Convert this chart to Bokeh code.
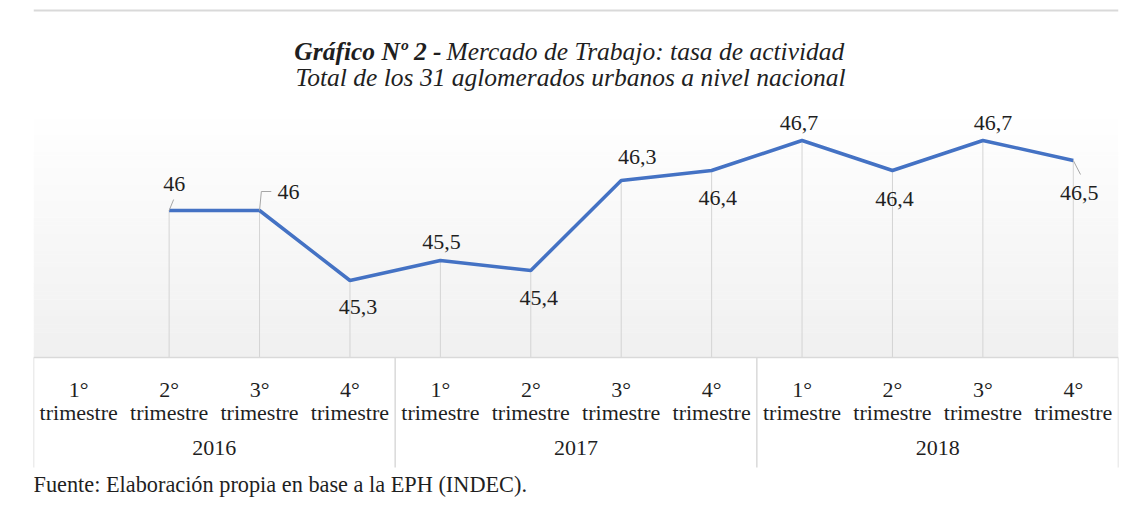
import numpy as np
from bokeh.plotting import figure
from bokeh.models import FactorRange, Range1d, Label, Span
from bokeh.core.properties import value
from bokeh.embed import file_html
from bokeh.resources import INLINE

years = ["2016", "2017", "2018"]
quarters = ["1°\ntrimestre", "2°\ntrimestre", "3°\ntrimestre", "4°\ntrimestre"]
tasa = [None, 46.0, 46.0, 45.3, 45.5, 45.4, 46.3, 46.4, 46.7, 46.4, 46.7, 46.5]
etiquetas = ["", "46", "46", "45,3", "45,5", "45,4", "46,3", "46,4", "46,7", "46,4", "46,7", "46,5"]

# label placement (pixels) - style only
lab_dx = [0, 5, 29, 8, 1, 8, 16, 6, -3, 2, 10, 6]
lab_dy = [0, -27, -19, 26, -19, 27, -24, 27, -18, 28, -18, 32]

FONT = "Liberation Serif"
TXT = "#1f1f1f"
factors = [(y, q) for y in years for q in quarters]
vals = np.array([np.nan if v is None else v for v in tasa])

H = 518
PX = 100.0            # pixels per unit
AXIS_Y = 44.53        # value at the category axis
Y_TOP = AXIS_Y + 357 / PX
Y_BOT = AXIS_Y - (H - 357) / PX
GRAD_TOP = 47.0

p = figure(width=1128, height=H,
           x_range=FactorRange(*factors, factor_padding=0, group_padding=0, range_padding=0),
           y_range=Range1d(Y_BOT, Y_TOP), output_backend="svg", toolbar_location=None,
           min_border_left=33, min_border_right=10, min_border_top=0, min_border_bottom=0)
p.outline_line_color = None
p.background_fill_color = "white"
p.border_fill_color = "white"
p.xgrid.visible = False
p.ygrid.visible = False
p.yaxis.visible = False

# picture frame: top rule
p.add_layout(Span(location=Y_TOP - 10 / PX, dimension="width", line_color="#d9d9d9", line_width=2))

# gradient background of the plot area (horizontal bands)
nb = 60
edges = np.linspace(AXIS_Y, GRAD_TOP, nb + 1)
shade = np.linspace(240, 255, nb).round().astype(int)
cols = ["#%02x%02x%02x" % (s, s, s) for s in shade]
p.quad(left=[0] * nb, right=[len(factors)] * nb, bottom=list(edges[:-1]), top=list(edges[1:] + 0.004),
       fill_color=cols, line_color=None)

mask = ~np.isnan(vals)
fx = [f for f, m in zip(factors, mask) if m]
fv = vals[mask]
p.segment(x0=fx, y0=[AXIS_Y] * len(fx), x1=fx, y1=list(fv), line_color="#d4d4d4", line_width=1)

p.line(x=factors, y=list(vals), line_color="#4472C4", line_width=3.5)

# leader lines of the data labels
lead_xs = [[(*factors[1], 0.0), (*factors[1], 0.05)],
           [(*factors[2], 0.0), (*factors[2], 0.02), (*factors[2], 0.13)],
           [(*factors[11], 0.0), (*factors[11], 0.08)]]
lead_ys = [[tasa[1], tasa[1] + 0.11],
           [tasa[2], tasa[2] + 0.19, tasa[2] + 0.19],
           [tasa[11], tasa[11] - 0.14]]
p.multi_line(xs=lead_xs, ys=lead_ys, line_color="#a6a6a6", line_width=1)

p.text(x=fx, y=list(fv), text=[e for e, m in zip(etiquetas, mask) if m],
       x_offset=[d for d, m in zip(lab_dx, mask) if m], y_offset=[d for d, m in zip(lab_dy, mask) if m],
       text_align="center", text_baseline="middle", text_font=value(FONT), text_font_size="22px",
       text_color=TXT)

# category axis (inside the frame, at the bottom of the plot area)
ax = p.xaxis[0]
ax.fixed_location = AXIS_Y
ax.axis_line_color = "#d9d9d9"
ax.axis_line_width = 1.5
ax.major_tick_line_color = None
ax.minor_tick_line_color = None
ax.major_label_text_font = FONT
ax.major_label_text_font_size = "22px"
ax.major_label_text_line_height = 0.95
ax.major_label_text_color = TXT
ax.major_label_standoff = 13
ax.group_text_font = FONT
ax.group_text_font_size = "22px"
ax.group_text_color = TXT
ax.group_text_font_style = "normal"
ax.separator_line_color = None

# year boxes: vertical rules at the group boundaries
nq = len(quarters)
bx = [float(i * nq) for i in range(len(years) + 1)]
p.segment(x0=bx, x1=bx, y0=[AXIS_Y] * len(bx), y1=[AXIS_Y - 1.10] * len(bx),
          line_color="#d9d9d9", line_width=1.5)

def lab(txt, px, py, style="normal", align="left", size="22px"):
    p.add_layout(Label(x=px - 33, y=H - py, x_units="screen", y_units="screen", text=txt,
                       text_font=FONT, text_font_style=style, text_font_size=size, text_align=align,
                       text_baseline="middle", text_color=TXT))

lab("Gráfico Nº 2 -", 441, 51, "bold italic", "right", "25.5px")
lab("Mercado de Trabajo: tasa de actividad", 446, 51, "italic", "left", "25.5px")
lab("Total de los 31 aglomerados urbanos a nivel nacional", 570, 77, "italic", "center", "25.5px")
lab("Fuente: Elaboración propia en base a la EPH (INDEC).", 33, 484, size="22.3px")

open("out.html", "w").write(file_html(p, INLINE))
